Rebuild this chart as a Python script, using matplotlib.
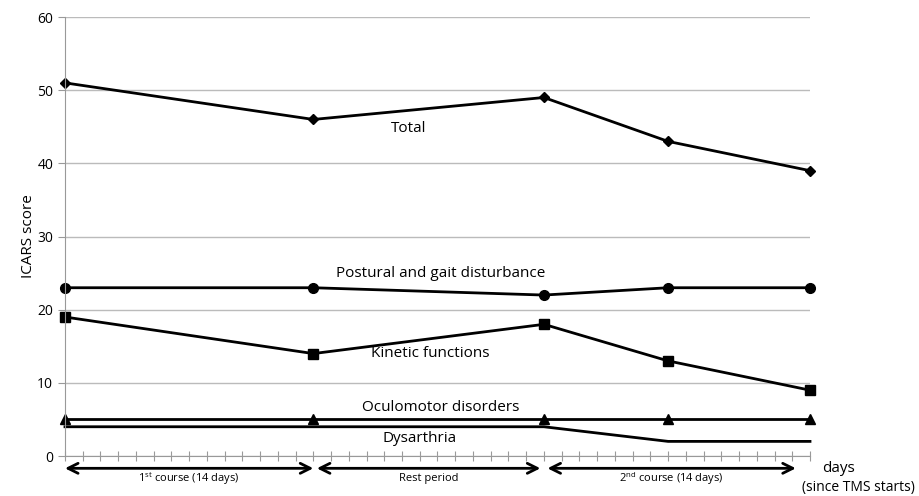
import matplotlib
matplotlib.use('Agg')
import matplotlib.pyplot as plt

plt.rcParams['font.family'] = ['Open Sans', 'DejaVu Sans']
plt.rcParams['mathtext.fontset'] = 'custom'
plt.rcParams['mathtext.rm'] = 'Open Sans'

days = [0, 14, 27, 34, 42]
total = [51, 46, 49, 43, 39]
postural = [23, 23, 22, 23, 23]
kinetic = [19, 14, 18, 13, 9]
oculomotor = [5, 5, 5, 5, 5]
dysarthria = [4, 4, 4, 2, 2]

periods = [(0, 14, '1$^{\\mathrm{st}}$ course (14 days)'),
           (14.2, 26.8, 'Rest period'),
           (27.2, 41.2, '2$^{\\mathrm{nd}}$ course (14 days)')]

fig = plt.figure(figsize=(9.19, 4.96), dpi=100)
ax = fig.add_axes([0.0707, 0.0806, 0.8107, 0.8851])

ax.plot(days, total, color='black', lw=2, marker='D', ms=5, clip_on=False)
ax.plot(days, postural, color='black', lw=2, marker='o', ms=7, clip_on=False)
ax.plot(days, kinetic, color='black', lw=2, marker='s', ms=7, clip_on=False)
ax.plot(days, oculomotor, color='black', lw=2, marker='^', ms=7, clip_on=False)
ax.plot(days, dysarthria, color='black', lw=2, clip_on=False)

ax.text(19.4, 44.8, 'Total', ha='center', va='center', fontsize=11)
ax.text(21.2, 25.0, 'Postural and gait disturbance', ha='center', va='center', fontsize=11)
ax.text(20.6, 14.0, 'Kinetic functions', ha='center', va='center', fontsize=11)
ax.text(21.2, 6.6, 'Oculomotor disorders', ha='center', va='center', fontsize=11)
ax.text(20.0, 2.4, 'Dysarthria', ha='center', va='center', fontsize=11)

ax.set_xlim(0, 42)
ax.set_ylim(0, 60)
ax.set_yticks(range(0, 61, 10))
ax.set_xticks(range(0, 43))
ax.set_xticklabels([])
ax.tick_params(axis='x', direction='inout', length=7, color='#999999')
ax.tick_params(axis='y', length=5, color='#999999', labelsize=10)
ax.grid(axis='y', color='#bbbbbb', lw=1)
ax.set_axisbelow(True)
for s in ['top', 'right']:
    ax.spines[s].set_visible(False)
ax.spines['left'].set_color('#999999')
ax.spines['bottom'].set_color('#999999')
ax.set_ylabel('ICARS score', fontsize=11, labelpad=1)

trans = ax.get_xaxis_transform()
for x0, x1, lab in periods:
    ax.annotate('', xy=(x0, -0.028), xytext=(x1, -0.028), xycoords=trans,
                textcoords=trans,
                arrowprops=dict(arrowstyle='<->', lw=2, color='black',
                                mutation_scale=18, shrinkA=0, shrinkB=0))
    ax.text((x0 + x1) / 2, -0.052, lab, transform=trans, ha='center',
            va='center', fontsize=8)

fig.text(822 / 919, 1 - 468 / 496, 'days', ha='left', va='center', fontsize=11)
fig.text(915 / 919, 1 - 487 / 496, '(since TMS starts)', ha='right', va='center', fontsize=10)

fig.savefig('out.png', dpi=100)
